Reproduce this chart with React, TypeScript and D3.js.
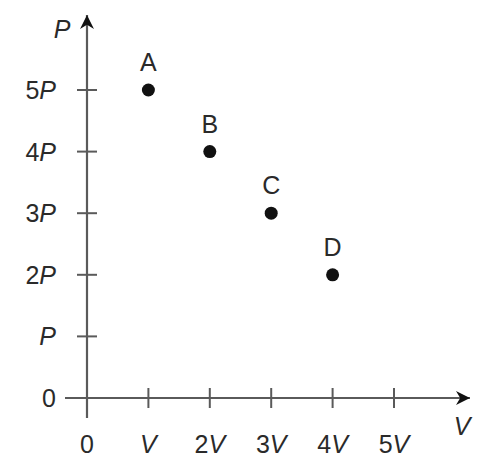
import { useEffect, useRef } from 'react';
import * as d3 from 'd3';

const pointNames = ['A', 'B', 'C', 'D'];
const volumes = [1, 2, 3, 4];
const pressures = [5, 4, 3, 2];

const xTicks = [0, 1, 2, 3, 4, 5];
const xTickPrefix = ['0', '', '2', '3', '4', '5'];
const xTickUnit = ['', 'V', 'V', 'V', 'V', 'V'];
const yTicks = [0, 1, 2, 3, 4, 5];
const yTickPrefix = ['0', '', '2', '3', '4', '5'];
const yTickUnit = ['', 'P', 'P', 'P', 'P', 'P'];

export default function App() {
  const svgRef = useRef<SVGSVGElement>(null);
  const width = 497;
  const height = 476;

  useEffect(() => {
    const svg = d3.select(svgRef.current);
    svg.selectAll('*').remove();

    const axisColor = '#5a5a5a';
    const textColor = '#2a2a2a';
    const font = 'Liberation Sans, Arial, sans-serif';
    const fs = 25;

    const x = d3.scaleLinear().domain([0, 5]).range([87, 394]);
    const y = d3.scaleLinear().domain([0, 5]).range([398, 90]);

    // flèches
    svg.append('defs').append('marker')
      .attr('id', 'arrow')
      .attr('viewBox', '0 0 10 10')
      .attr('refX', 10)
      .attr('refY', 5)
      .attr('markerWidth', 20)
      .attr('markerHeight', 14)
      .attr('markerUnits', 'userSpaceOnUse')
      .attr('orient', 'auto')
      .append('path')
      .attr('d', 'M0,0 L10,5 L0,10 L3,5 Z')
      .attr('fill', '#111');

    // axes
    svg.append('line')
      .attr('x1', x(0) - 22).attr('x2', 470)
      .attr('y1', y(0)).attr('y2', y(0))
      .attr('stroke', axisColor).attr('stroke-width', 2.2)
      .attr('marker-end', 'url(#arrow)');
    svg.append('line')
      .attr('x1', x(0)).attr('x2', x(0))
      .attr('y1', y(0) + 20).attr('y2', 15)
      .attr('stroke', axisColor).attr('stroke-width', 2.2)
      .attr('marker-end', 'url(#arrow)');

    // graduations
    svg.append('g').selectAll('line')
      .data(xTicks.filter(d => d > 0))
      .enter().append('line')
      .attr('x1', d => x(d)).attr('x2', d => x(d))
      .attr('y1', y(0) - 10).attr('y2', y(0) + 10)
      .attr('stroke', axisColor).attr('stroke-width', 2);
    svg.append('g').selectAll('line')
      .data(yTicks.filter(d => d > 0))
      .enter().append('line')
      .attr('x1', x(0) - 10).attr('x2', x(0) + 10)
      .attr('y1', d => y(d)).attr('y2', d => y(d))
      .attr('stroke', axisColor).attr('stroke-width', 2);

    // étiquettes x
    const xl = svg.append('g').selectAll('text')
      .data(xTicks)
      .enter().append('text')
      .attr('x', d => x(d))
      .attr('y', 453)
      .attr('text-anchor', 'middle')
      .attr('font-family', font)
      .attr('font-size', fs)
      .attr('fill', textColor);
    xl.append('tspan').text((d, i) => xTickPrefix[i]);
    xl.append('tspan').attr('font-style', 'italic').text((d, i) => xTickUnit[i]);

    // étiquettes y
    const yl = svg.append('g').selectAll('text')
      .data(yTicks)
      .enter().append('text')
      .attr('x', 56)
      .attr('y', d => y(d) + 9)
      .attr('text-anchor', 'end')
      .attr('font-family', font)
      .attr('font-size', fs)
      .attr('fill', textColor);
    yl.append('tspan').text((d, i) => yTickPrefix[i]);
    yl.append('tspan').attr('font-style', 'italic').text((d, i) => yTickUnit[i]);

    // titres des axes
    svg.append('text')
      .attr('x', 62).attr('y', 38)
      .attr('text-anchor', 'middle')
      .attr('font-family', font).attr('font-size', fs)
      .attr('font-style', 'italic').attr('fill', textColor)
      .text('P');
    svg.append('text')
      .attr('x', 462).attr('y', 435)
      .attr('text-anchor', 'middle')
      .attr('font-family', font).attr('font-size', fs)
      .attr('font-style', 'italic').attr('fill', textColor)
      .text('V');

    // points
    const pts = pointNames.map((n, i) => ({ name: n, v: volumes[i], p: pressures[i] }));
    svg.append('g').selectAll('circle')
      .data(pts)
      .enter().append('circle')
      .attr('cx', d => x(d.v))
      .attr('cy', d => y(d.p))
      .attr('r', 6.5)
      .attr('fill', '#111');
    svg.append('g').selectAll('text')
      .data(pts)
      .enter().append('text')
      .attr('x', d => x(d.v))
      .attr('y', d => y(d.p) - 19)
      .attr('text-anchor', 'middle')
      .attr('font-family', font)
      .attr('font-size', fs)
      .attr('fill', textColor)
      .text(d => d.name);
  }, []);

  return (
    <svg
      ref={svgRef}
      width={width}
      height={height}
      style={{ position: 'absolute', top: 0, left: 0, background: '#fff' }}
    />
  );
}
